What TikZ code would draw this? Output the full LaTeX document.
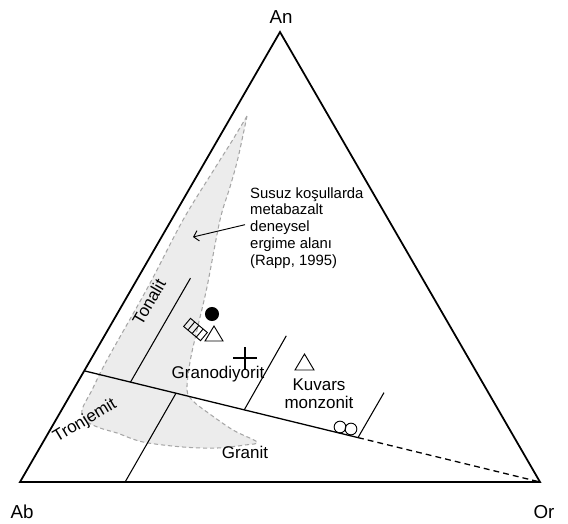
\documentclass[tikz,border=0pt]{standalone}
\usepackage{fontspec}
\setmainfont{Liberation Sans}
\usetikzlibrary{calc,arrows.meta}

\begin{document}
\begin{tikzpicture}[x=0.03cm, y=-0.03cm,
    lbl/.style={font=\fontsize{14.5}{15.5}\selectfont, inner sep=0pt},
    vtx/.style={font=\fontsize{16}{18}\selectfont, inner sep=0pt},
    note/.style={font=\fontsize{12.7}{14.3}\selectfont, align=left, inner sep=0pt},
    zone/.style={draw=gray!70, fill=gray!15, dash pattern=on 3.5pt off 2.5pt, line width=0.9pt},
    >={Straight Barb[length=4pt,width=9pt]}]
  \useasboundingbox (0,0) rectangle (568,523);

  % Corners of the triangle
  \coordinate (ab) at (20,482);
  \coordinate (or) at (540,482);
  \coordinate (an) at (280,32);

  % Experimental melt field (shaded)
  \filldraw[zone] plot[smooth, tension=0.55] coordinates {
      (247,116) (232,141) (215,168) (183,220) (148,287) (107,360) (92,390)
      (82,410) (86,421) (100,428) (117,433) (143,442) (183,447) (217,448)
      (245,445) (257,442) (233,430) (207,412) (193,401) (187,390) (190,362)
      (197,330) (207,287) (220,220) (230,187) (238,158) (247,116)} -- cycle;

  % Field boundaries
  \coordinate (lft) at (85,371);
  \coordinate (brk) at ($(lft)!0.6!(or)$);
  \draw[line width=1.1pt] (lft) -- (brk);
  \draw[line width=1.1pt, dash pattern=on 5pt off 3.5pt] (brk) -- (or);
  \coordinate (t1) at ($(lft)!0.1!(or)$);
  \coordinate (t2) at ($(lft)!0.2!(or)$);
  \coordinate (t3) at ($(lft)!0.35!(or)$);
  \draw[line width=0.9pt] (t1) -- ++(60,-104);
  \draw[line width=0.9pt] (t2) -- ++(-51,89);
  \draw[line width=0.9pt] (t3) -- ++(42,-74);
  \draw[line width=0.9pt] (brk) -- ++(26,-45);

  % Triangle
  \draw[line width=1.5pt, line join=miter] (ab) -- (an) -- (or) -- cycle;

  % Corner labels
  \node[vtx] (labAb) at (22,512) {Ab};
  \node[vtx] (labOr) at (544,512) {Or};
  \node[vtx] (labAn) at (281,17) {An};

  % Field names
  \node[lbl, rotate=60] (tonalit) at (149,302) {Tonalit};
  \node[lbl, rotate=31] (tronjemit) at (85,421) {Tronjemit};
  \node[lbl] (granit) at (245,452) {Granit};
  \node[lbl] (granodiyorit) at (218,374) {Granodiyorit};
  \node[lbl, align=center] (kuvars) at (319,394) {Kuvars\\monzonit};

  % Annotation
  \node[note, anchor=north west] (melt) at (250,187)
    {Susuz koşullarda\\metabazalt\\deneysel\\ergime alanı\\(Rapp, 1995)};
  \coordinate (meltpt) at (193,237);
  \draw[->, line width=0.8pt] ($(melt.west)+(-5,-3)$) -- (meltpt);

  % Samples
  \fill (212,314) circle (6pt);
  \begin{scope}[shift={(195.5,329.5)}, rotate=-40, line width=0.8pt]
    \draw (-11,-5.3) rectangle (11,5.3);
    \draw (-5.5,-5.3) -- (-5.5,5.3);
    \draw (0,-5.3) -- (0,5.3);
    \draw (5.5,-5.3) -- (5.5,5.3);
  \end{scope}
  \draw[line width=0.8pt] (205,341) -- (223,341) -- (214,326) -- cycle;
  \draw[line width=1pt] (233,358) -- (257,358);
  \draw[line width=1pt] (245,347) -- (245,369);
  \draw[line width=0.8pt] (295,370) -- (314,370) -- (304.5,354) -- cycle;
  \draw[line width=0.8pt] (340,427) circle (5pt);
  \draw[line width=0.8pt] (351,429) circle (5pt);
\end{tikzpicture}
\end{document}
